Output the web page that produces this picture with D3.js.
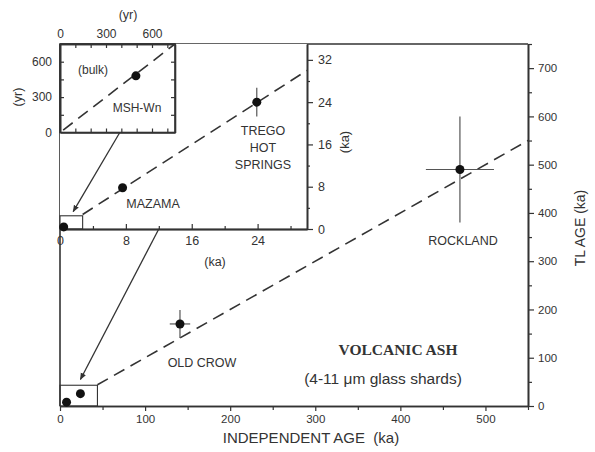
<!DOCTYPE html>
<html>
<head>
<meta charset="utf-8">
<script src="https://cdn.jsdelivr.net/npm/d3@7"></script>
<style>
  body { margin: 0; background: #fff; }
  text { font-family: Arial, "Liberation Sans", sans-serif; fill: #333; }
</style>
</head>
<body>
<div id="chart"></div>
<script>
// main plot data (ka)
var mainNames = ["MAZAMA", "TREGO HOT SPRINGS", "OLD CROW", "ROCKLAND"];
var mainX = [7.7, 24, 141, 470];
var mainY = [8, 25.5, 170, 490];
var mainXErr = [0, 0, 12, 40];
var mainYErr = [0, 0, 29, 110];
var mainTicksX = [0, 100, 200, 300, 400, 500];
var mainTicksY = [0, 100, 200, 300, 400, 500, 600, 700];

// middle inset (ka)
var midX = [0.45, 7.6, 23.9];
var midY = [0.4, 7.8, 24];
var midYErr = [0, 0, 2.7];
var midTicks = [0, 8, 16, 24, 32];

// small inset (yr)
var smallX = [495];
var smallY = [480];
var smallYErr = [30];
var smallTicks = [0, 300, 600];

// zoom boxes: [xmax, ymax]
var mainBox = [44, 43];
var midBox = [2.75, 2.5];

var width = 595, height = 452;
var svg = d3.select('#chart').append('svg')
    .attr('width', width)
    .attr('height', height);

var ink = "#333";

// scales
var x = d3.scaleLinear().domain([0, 550]).range([60, 528]);
var y = d3.scaleLinear().domain([0, 750]).range([406, 44]);
var mx = d3.scaleLinear().domain([0, 30]).range([60, 307]);
var my = d3.scaleLinear().domain([0, 35]).range([229, 44]);
var sx = d3.scaleLinear().domain([0, 750]).range([60, 175]);
var sy = d3.scaleLinear().domain([0, 750]).range([132.5, 44]);

function styleAxis(g, size) {
  g.select(".domain").attr("stroke", ink).attr("stroke-width", 1.6);
  g.selectAll(".tick line").attr("stroke", ink).attr("stroke-width", 1.2);
  g.selectAll("text").attr("font-size", size || 11).attr("fill", ink)
    .attr("font-family", "Arial, 'Liberation Sans', sans-serif");
}

// ---------- main plot ----------
// minor ticks
svg.append("g").attr("transform", "translate(0,406)")
  .call(d3.axisBottom(x).tickValues(d3.range(50, 551, 100)).tickSize(4).tickFormat("").tickSizeOuter(0))
  .call(styleAxis);
svg.append("g").attr("transform", "translate(528,0)")
  .call(d3.axisRight(y).tickValues(d3.range(50, 751, 100)).tickSize(4).tickFormat("").tickSizeOuter(0))
  .call(styleAxis);

svg.append("g").attr("transform", "translate(0,406)")
  .call(d3.axisBottom(x).tickValues(mainTicksX).tickSize(5).tickPadding(4).tickSizeOuter(0))
  .call(styleAxis, 11.5);
svg.append("g").attr("transform", "translate(528,0)")
  .call(d3.axisRight(y).tickValues(mainTicksY).tickSize(6).tickPadding(4).tickSizeOuter(0))
  .call(styleAxis, 11.5);

// left + top frame
svg.append("line").attr("x1", x(0)).attr("x2", x(0)).attr("y1", y(750)).attr("y2", y(0))
  .attr("stroke", ink).attr("stroke-width", 1.6);
svg.append("line").attr("x1", x(0)).attr("x2", x(550)).attr("y1", y(750)).attr("y2", y(750))
  .attr("stroke", ink).attr("stroke-width", 1.6);

// 1:1 dashed line
svg.append("line")
  .attr("x1", x(mainBox[0])).attr("y1", y(mainBox[0]))
  .attr("x2", x(550)).attr("y2", y(550))
  .attr("stroke", ink).attr("stroke-width", 1.6).attr("stroke-dasharray", "12,7");

// zoom box
svg.append("rect")
  .attr("x", x(0)).attr("y", y(mainBox[1]))
  .attr("width", x(mainBox[0]) - x(0)).attr("height", y(0) - y(mainBox[1]))
  .attr("fill", "none").attr("stroke", ink).attr("stroke-width", 1.1);

// error bars + points
mainX.forEach(function(d, i) {
  if (mainXErr[i] > 0) {
    svg.append("line").attr("x1", x(d - mainXErr[i])).attr("x2", x(d + mainXErr[i]))
      .attr("y1", y(mainY[i])).attr("y2", y(mainY[i])).attr("stroke", "#555").attr("stroke-width", 1.2);
  }
  if (mainYErr[i] > 0) {
    svg.append("line").attr("x1", x(d)).attr("x2", x(d))
      .attr("y1", y(mainY[i] - mainYErr[i])).attr("y2", y(mainY[i] + mainYErr[i]))
      .attr("stroke", "#555").attr("stroke-width", 1.2);
  }
});
svg.selectAll("circle.main")
  .data(mainX)
  .join("circle")
    .attr("class", "main")
    .attr("cx", function(d) { return x(d); })
    .attr("cy", function(d, i) { return y(mainY[i]); })
    .attr("r", 4.5)
    .attr("fill", "#111");

// labels
svg.append("text").attr("x", 202).attr("y", 367).attr("text-anchor", "middle")
  .attr("font-size", 12.5).text("OLD CROW");
svg.append("text").attr("x", 463).attr("y", 245).attr("text-anchor", "middle")
  .attr("font-size", 12.5).text("ROCKLAND");
svg.append("text").attr("x", 398).attr("y", 355).attr("text-anchor", "middle")
  .attr("font-size", 15.5).attr("font-weight", "bold")
  .style("font-family", "'Liberation Serif', 'DejaVu Serif', serif").text("VOLCANIC ASH");
svg.append("text").attr("x", 383).attr("y", 384).attr("text-anchor", "middle")
  .attr("font-size", 15.5).text("(4-11 \u03bcm glass shards)");
svg.append("text").attr("x", 311).attr("y", 443).attr("text-anchor", "middle")
  .attr("font-size", 15).attr("xml:space", "preserve").text("INDEPENDENT AGE  (ka)");
svg.append("text").attr("transform", "translate(585,228) rotate(-90)").attr("text-anchor", "middle")
  .attr("font-size", 14).text("TL AGE (ka)");

// ---------- middle inset ----------
var mid = svg.append("g");
mid.append("rect").attr("x", mx(0)).attr("y", my(35))
  .attr("width", mx(30) - mx(0)).attr("height", my(0) - my(35)).attr("fill", "#fff");

mid.append("g").attr("transform", "translate(0," + my(0) + ")")
  .call(d3.axisTop(mx).tickValues([4, 12, 20, 28]).tickSize(3).tickFormat("").tickSizeOuter(0))
  .call(styleAxis);
mid.append("g").attr("transform", "translate(0," + my(0) + ")")
  .call(d3.axisTop(mx).tickValues([8, 16, 24]).tickSize(5).tickFormat("").tickSizeOuter(0))
  .call(styleAxis);
mid.append("g").attr("transform", "translate(307,0)")
  .call(d3.axisRight(my).tickValues([4, 12, 20, 28]).tickSize(3).tickFormat("").tickSizeOuter(0))
  .call(styleAxis);
mid.append("g").attr("transform", "translate(0," + my(0) + ")")
  .call(d3.axisBottom(mx).tickValues(midTicks.filter(function(d){ return d <= 24; })).tickSize(0).tickPadding(7).tickSizeOuter(0))
  .call(styleAxis, 12.5);
mid.append("g").attr("transform", "translate(307,0)")
  .call(d3.axisRight(my).tickValues(midTicks).tickSize(6).tickPadding(5).tickSizeOuter(0))
  .call(styleAxis, 12.5);

mid.append("line")
  .attr("x1", mx(midBox[0])).attr("y1", my(midBox[0]))
  .attr("x2", mx(30)).attr("y2", my(30))
  .attr("stroke", ink).attr("stroke-width", 1.6).attr("stroke-dasharray", "12,7");

mid.append("rect")
  .attr("x", mx(0)).attr("y", my(midBox[1]))
  .attr("width", mx(midBox[0]) - mx(0)).attr("height", my(0) - my(midBox[1]))
  .attr("fill", "none").attr("stroke", ink).attr("stroke-width", 1.1);

midX.forEach(function(d, i) {
  if (midYErr[i] > 0) {
    mid.append("line").attr("x1", mx(d)).attr("x2", mx(d))
      .attr("y1", my(midY[i] - midYErr[i])).attr("y2", my(midY[i] + midYErr[i]))
      .attr("stroke", "#555").attr("stroke-width", 1.2);
  }
});
mid.selectAll("circle")
  .data(midX)
  .join("circle")
    .attr("cx", function(d) { return mx(d); })
    .attr("cy", function(d, i) { return my(midY[i]); })
    .attr("r", 4.5)
    .attr("fill", "#111");

mid.append("text").attr("x", 153).attr("y", 208).attr("text-anchor", "middle").attr("font-size", 12.5).text("MAZAMA");
["TREGO", "HOT", "SPRINGS"].forEach(function(t, i) {
  mid.append("text").attr("x", 263).attr("y", 135 + i * 17).attr("text-anchor", "middle")
    .attr("font-size", 12.5).text(t);
});
mid.append("text").attr("x", 215).attr("y", 266).attr("text-anchor", "middle").attr("font-size", 12.5).text("(ka)");
mid.append("text").attr("transform", "translate(349,142) rotate(-90)").attr("text-anchor", "middle")
  .attr("font-size", 13).text("(ka)");

// ---------- small inset ----------
var sm = svg.append("g");
sm.append("rect").attr("x", sx(0)).attr("y", sy(750))
  .attr("width", sx(750) - sx(0)).attr("height", sy(0) - sy(750))
  .attr("fill", "#fff").attr("stroke", ink).attr("stroke-width", 1.6);

var inTicks = d3.range(100, 750, 100);
sm.append("g").attr("transform", "translate(0," + sy(750) + ")")
  .call(d3.axisBottom(sx).tickValues(inTicks).tickSize(4).tickFormat("").tickSizeOuter(0)).call(styleAxis);
sm.append("g").attr("transform", "translate(0," + sy(0) + ")")
  .call(d3.axisTop(sx).tickValues(inTicks).tickSize(4).tickFormat("").tickSizeOuter(0)).call(styleAxis);
sm.append("g").attr("transform", "translate(" + sx(0) + ",0)")
  .call(d3.axisRight(sy).tickValues(d3.range(150, 750, 150)).tickSize(4).tickFormat("").tickSizeOuter(0)).call(styleAxis);
sm.append("g").attr("transform", "translate(" + sx(750) + ",0)")
  .call(d3.axisLeft(sy).tickValues(d3.range(150, 750, 150)).tickSize(4).tickFormat("").tickSizeOuter(0)).call(styleAxis);

sm.append("g").attr("transform", "translate(0," + sy(750) + ")")
  .call(d3.axisTop(sx).tickValues(smallTicks).tickSize(0).tickPadding(6).tickSizeOuter(0)).call(styleAxis, 12);
sm.append("g").attr("transform", "translate(" + sx(0) + ",0)")
  .call(d3.axisLeft(sy).tickValues(smallTicks).tickSize(0).tickPadding(8).tickSizeOuter(0)).call(styleAxis, 12);

sm.append("line")
  .attr("x1", sx(0)).attr("y1", sy(0))
  .attr("x2", sx(750)).attr("y2", sy(750))
  .attr("stroke", ink).attr("stroke-width", 1.6).attr("stroke-dasharray", "12,7").attr("stroke-dashoffset", -4);

smallX.forEach(function(d, i) {
  sm.append("line").attr("x1", sx(d)).attr("x2", sx(d))
    .attr("y1", sy(smallY[i] - smallYErr[i])).attr("y2", sy(smallY[i] + smallYErr[i]))
    .attr("stroke", "#555").attr("stroke-width", 1.2);
});
sm.selectAll("circle")
  .data(smallX)
  .join("circle")
    .attr("cx", function(d) { return sx(d); })
    .attr("cy", function(d, i) { return sy(smallY[i]); })
    .attr("r", 4.5)
    .attr("fill", "#111");

sm.append("text").attr("x", 93).attr("y", 74).attr("text-anchor", "middle").attr("font-size", 12).text("(bulk)");
sm.append("text").attr("x", 137).attr("y", 112).attr("text-anchor", "middle").attr("font-size", 12).text("MSH-Wn");
sm.append("text").attr("x", 128).attr("y", 19).attr("text-anchor", "middle").attr("font-size", 12.5).text("(yr)");
sm.append("text").attr("transform", "translate(22,97) rotate(-90)").attr("text-anchor", "middle")
  .attr("font-size", 12.5).text("(yr)");

// ---------- arrows ----------
var defs = svg.append("defs");
defs.append("marker").attr("id", "arr").attr("viewBox", "0 0 10 10")
  .attr("refX", 9).attr("refY", 5).attr("markerWidth", 7).attr("markerHeight", 7)
  .attr("orient", "auto").attr("markerUnits", "userSpaceOnUse")
  .append("path").attr("d", "M0,1 L10,5 L0,9 Z").attr("fill", ink);

// arrow from small inset to middle-inset box
svg.append("line")
  .attr("x1", sx(390)).attr("y1", sy(0))
  .attr("x2", mx(1.6)).attr("y2", my(3.3))
  .attr("stroke", ink).attr("stroke-width", 1.3).attr("marker-end", "url(#arr)");
// arrow from middle inset to main box
svg.append("line")
  .attr("x1", mx(12)).attr("y1", my(0))
  .attr("x2", x(24)).attr("y2", y(55))
  .attr("stroke", ink).attr("stroke-width", 1.3).attr("marker-end", "url(#arr)");
</script>
</body>
</html>
